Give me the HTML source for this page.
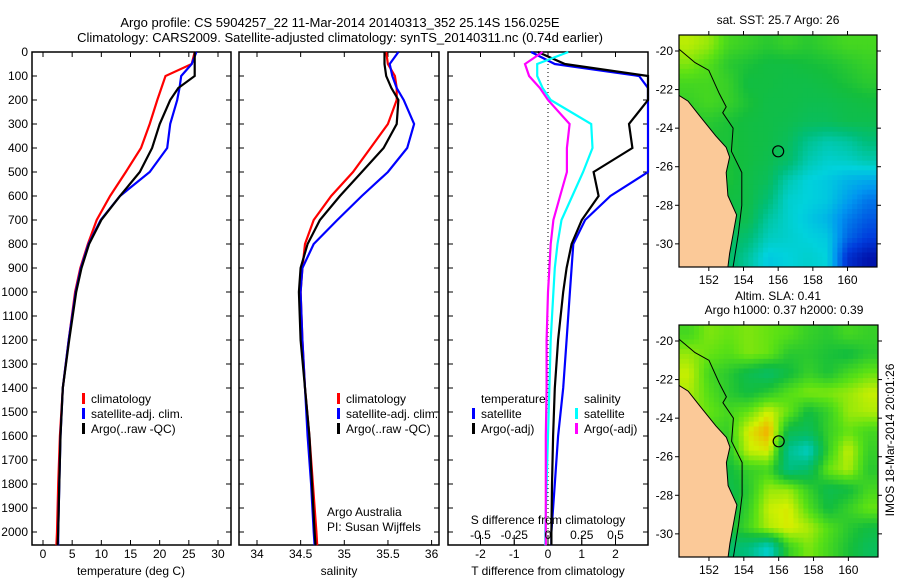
<!DOCTYPE html>
<html><head><meta charset="utf-8"><style>
html,body{margin:0;padding:0;background:#fff;}
svg{display:block;font-family:"Liberation Sans",sans-serif;}
text{font-size:12px;fill:#000;}
</style></head><body>
<svg id="c" width="900" height="580" viewBox="0 0 900 580">
<text x="340" y="27" text-anchor="middle" style="font-size:13px">Argo profile: CS 5904257_22 11-Mar-2014 20140313_352 25.14S 156.025E</text>
<text x="340" y="42" text-anchor="middle" style="font-size:13px">Climatology: CARS2009. Satellite-adjusted climatology: synTS_20140311.nc (0.74d earlier)</text>
<text transform="translate(894,440) rotate(-90)" text-anchor="middle">IMOS 18-Mar-2014 20:01:26</text>
</svg>
<script>
// ---------- data ----------
const depthTicks=[0,100,200,300,400,500,600,700,800,900,1000,1100,1200,1300,1400,1500,1600,1700,1800,1900,2000];
const tempTicks=[0,5,10,15,20,25,30];
const salTicks=[34,34.5,35,35.5,36];
const tdTicks=[-2,-1,0,1,2];
const sdTicks=[-0.5,-0.25,0,0.25,0.5];
const sdTickLabels=["-0.5","-0.25","0","0.25","0.5"];
const depths=[0,50,100,150,200,300,400,500,600,700,800,900,1000,1200,1400,1600,1800,2000,2055];
const tempClim=[26,25.5,21,20.3,19.6,18.3,16.8,14.2,11.5,9.2,7.7,6.4,5.5,4.4,3.4,2.9,2.6,2.4,2.3];
const tempSat=[26.3,25.5,23.7,23.4,23,21.8,21.3,18.3,13.2,9.9,7.8,6.5,5.6,4.4,3.4,3.0,2.8,2.6,2.6];
const tempArgo=[26,26,26,23.2,21.8,20,18.7,16.6,13.2,10,7.9,6.6,5.7,4.5,3.4,3.0,2.8,2.6,2.5];
const salClim=[35.48,35.5,35.58,35.6,35.6,35.5,35.3,35.1,34.85,34.65,34.55,34.52,34.5,34.52,34.55,34.6,34.64,34.68,34.69];
const salSat=[35.62,35.52,35.55,35.6,35.68,35.8,35.72,35.5,35.2,34.92,34.65,34.52,34.5,34.52,34.55,34.58,34.62,34.65,34.66];
const salArgo=[35.46,35.46,35.48,35.54,35.62,35.6,35.45,35.2,34.95,34.72,34.58,34.5,34.48,34.5,34.55,34.6,34.63,34.66,34.67];
const tdSat=[-0.5,0.2,2.7,3.3,3.4,3.4,3.4,3.0,1.85,1.1,0.75,0.7,0.65,0.55,0.45,0.3,0.2,0.1,0.1];
const tdArgo=[-0.3,0.5,3.4,3.4,3.2,2.4,2.5,1.35,1.5,1.0,0.7,0.55,0.45,0.3,0.2,0.15,0.12,0.1,0.1];
const sdSat=[0.15,-0.08,-0.08,-0.04,0.02,0.32,0.33,0.26,0.18,0.1,0.07,0.05,0.04,0.02,0.01,0,-0.01,-0.02,-0.02];
const sdArgo=[-0.04,-0.17,-0.14,-0.06,0,0.16,0.14,0.14,0.09,0.04,0.02,0.01,0,-0.01,-0.01,-0.016,-0.016,-0.016,-0.016];
const mapLonTicks=[152,154,156,158,160];
const sstLatTicks=[-20,-22,-24,-26,-28,-30];
const sstGrid=[
[.83,.80,.72,.70,.68,.70,.68,.70,.72,.72],
[.78,.74,.68,.66,.64,.64,.65,.66,.68,.70],
[.72,.72,.70,.64,.64,.63,.63,.64,.66,.68],
[.70,.72,.70,.66,.63,.63,.62,.62,.63,.64],
[.68,.68,.66,.64,.63,.62,.60,.60,.62,.62],
[.66,.66,.66,.64,.63,.60,.52,.48,.50,.55],
[.66,.66,.66,.64,.62,.58,.48,.44,.45,.48],
[.66,.66,.66,.63,.60,.48,.42,.40,.36,.34],
[.66,.66,.64,.63,.56,.44,.42,.40,.32,.25],
[.66,.66,.63,.62,.50,.44,.40,.36,.26,.20],
[.66,.66,.60,.56,.46,.44,.42,.40,.22,.15],
[.66,.66,.58,.50,.40,.42,.44,.42,.12,.05]];
const slaGrid=[
[.72,.78,.76,.78,.76,.74,.70,.68,.72,.70],
[.80,.76,.74,.78,.76,.68,.68,.66,.64,.68],
[.84,.72,.68,.62,.58,.64,.70,.66,.72,.76],
[.82,.74,.68,.64,.68,.74,.78,.78,.80,.84],
[.80,.76,.72,.76,.85,.76,.64,.70,.80,.82],
[.78,.72,.70,.86,.93,.62,.60,.70,.76,.72],
[.78,.70,.68,.84,.86,.52,.45,.70,.84,.70],
[.76,.68,.64,.70,.72,.54,.58,.76,.82,.68],
[.74,.68,.62,.68,.80,.80,.70,.62,.64,.72],
[.72,.66,.62,.70,.84,.86,.74,.64,.70,.76],
[.70,.64,.64,.72,.82,.86,.82,.74,.68,.64],
[.70,.64,.58,.54,.44,.70,.78,.72,.66,.60]];
const coastLon=[150.28,150.8,151.5,152.4,153.0,153.2,153.0,153.1,153.6,153.4,153.2,153.1];
const coastLat=[-22.3,-22.6,-23.4,-24.4,-25.0,-25.5,-26.3,-27.5,-28.5,-29.5,-30.5,-31.2];
const isoLon=[150.28,151.2,152.0,152.6,153.0,152.8,153.4,153.3,153.9,153.9,153.7,153.4];
const isoLat=[-19.9,-20.6,-21.0,-22.2,-22.9,-23.2,-24.0,-25.2,-26.3,-28.0,-29.5,-31.2];
const argoLon=156.0, argoLat=-25.2;

// ---------- helpers ----------
const NS="http://www.w3.org/2000/svg";
const svg=document.getElementById('c');
function mk(tag,attrs,parent){const e=document.createElementNS(NS,tag);for(const k in attrs)e.setAttribute(k,attrs[k]);(parent||svg).appendChild(e);return e;}
const Y0=52,Y1=532,YB=545;
const yD=d=>Y0+(d/2000)*(Y1-Y0);

function axesBox(x0,x1,name){
  const g=mk('g',{});
  
  
  mk('rect',{x:x0,y:Y0,width:x1-x0,height:YB-Y0,fill:'#fff',stroke:'#000','stroke-width':1.5},g);
  return g;
}
function yTicks(g,x0,x1,labels){
  depthTicks.forEach(d=>{
    const y=yD(d);
    mk('line',{x1:x0,y1:y,x2:x0+5,y2:y,stroke:'#000'},g);
    mk('line',{x1:x1,y1:y,x2:x1-5,y2:y,stroke:'#000'},g);
    if(labels){const t=mk('text',{x:x0-4,y:y+4,'text-anchor':'end'},g);t.textContent=d;
      
      }
  });
}
function xTicks(g,vals,fx,labels,ly){
  vals.forEach((v,i)=>{
    const x=fx(v);
    mk('line',{x1:x,y1:YB,x2:x,y2:YB-5,stroke:'#000'},g);
    mk('line',{x1:x,y1:Y0,x2:x,y2:Y0+5,stroke:'#000'},g);
    const t=mk('text',{x:x,y:ly,'text-anchor':'middle'},g);t.textContent=labels?labels[i]:v;
    
    
  });
}
function profile(g,vals,fx,color,name,x0,x1){
  let pts='';
  vals.forEach((v,i)=>{let x=Math.max(x0,Math.min(x1,fx(v)));pts+=x.toFixed(1)+','+yD(Math.min(depths[i],2055)).toFixed(1)+' ';});
  const p=mk('polyline',{points:pts,fill:'none',stroke:color,'stroke-width':2.2},g);
  
  
}
function legendEntry(g,x,y,color,label,name){
  const e=mk('g',{},g);
  
  
  if(color)mk('rect',{x:x,y:y-10,width:3,height:11,fill:color},e);
  const t=mk('text',{x:x+9,y:y},e);t.textContent=label;
}

// ---------- panel 1: temperature ----------
const fT=v=>43+v*5.833;
let g1=axesBox(32,231,'temperature-panel');
yTicks(g1,32,231,true);
xTicks(g1,tempTicks,fT,null,558);
profile(g1,tempClim,fT,'#f00','temp-climatology-line',32,231);
profile(g1,tempSat,fT,'#00f','temp-satellite-line',32,231);
profile(g1,tempArgo,fT,'#000','temp-argo-line',32,231);
legendEntry(g1,82,403,'#f00','climatology','legend-climatology');
legendEntry(g1,82,418,'#00f','satellite-adj. clim.','legend-satellite');
legendEntry(g1,82,433,'#000','Argo(..raw -QC)','legend-argo');
{const t=mk('text',{x:131,y:575,'text-anchor':'middle'},g1);t.textContent='temperature (deg C)';

}

// ---------- panel 2: salinity ----------
const fS=v=>257+(v-34)*87.3;
let g2=axesBox(239,439,'salinity-panel');
yTicks(g2,239,439,false);
xTicks(g2,salTicks,fS,null,558);
profile(g2,salClim,fS,'#f00','sal-climatology-line',239,439);
profile(g2,salSat,fS,'#00f','sal-satellite-line',239,439);
profile(g2,salArgo,fS,'#000','sal-argo-line',239,439);
legendEntry(g2,337,403,'#f00','climatology','legend-climatology');
legendEntry(g2,337,418,'#00f','satellite-adj. clim.','legend-satellite');
legendEntry(g2,337,433,'#000','Argo(..raw -QC)','legend-argo');
{const t=mk('text',{x:327,y:516},g2);t.textContent='Argo Australia';


const t2=mk('text',{x:327,y:531},g2);t2.textContent='PI: Susan Wijffels';


const t3=mk('text',{x:339,y:575,'text-anchor':'middle'},g2);t3.textContent='salinity';

}

// ---------- panel 3: differences ----------
const fTD=v=>548+v*33.75;
const fSD=v=>548+v*135;
let g3=axesBox(448,648,'difference-panel');
yTicks(g3,448,648,false);
xTicks(g3,tdTicks,fTD,null,558);
mk('line',{x1:548,y1:Y0,x2:548,y2:YB,stroke:'#000','stroke-dasharray':'1,3'},g3);
profile(g3,tdSat,fTD,'#00f','tdiff-satellite-line',448,648);
profile(g3,tdArgo,fTD,'#000','tdiff-argo-line',448,648);
profile(g3,sdSat,fSD,'#0ff','sdiff-satellite-line',448,648);
profile(g3,sdArgo,fSD,'#f0f','sdiff-argo-line',448,648);
sdTicks.forEach((v,i)=>{const x=fSD(v);
  mk('line',{x1:x,y1:YB,x2:x,y2:YB-10,stroke:'#000'},g3);
  const t=mk('text',{x:x,y:539,'text-anchor':'middle'},g3);t.textContent=sdTickLabels[i];
  
  });
{const t=mk('text',{x:548,y:524,'text-anchor':'middle'},g3);t.textContent='S difference from climatology';


const t2=mk('text',{x:548,y:575,'text-anchor':'middle'},g3);t2.textContent='T difference from climatology';

}
legendEntry(g3,472,403,null,'temperature','legend-temperature-header');
legendEntry(g3,472,418,'#00f','satellite','legend-t-satellite');
legendEntry(g3,472,433,'#000','Argo(-adj)','legend-t-argo');
legendEntry(g3,575,403,null,'salinity','legend-salinity-header');
legendEntry(g3,575,418,'#0ff','satellite','legend-s-satellite');
legendEntry(g3,575,433,'#f0f','Argo(-adj)','legend-s-argo');

// ---------- maps ----------
const cmapStops=[[0,[0,0,150]],[0.15,[0,60,220]],[0.3,[0,150,240]],[0.42,[0,210,220]],[0.55,[0,190,120]],[0.65,[20,190,60]],[0.75,[90,225,20]],[0.85,[210,240,0]],[0.93,[245,170,0]],[1,[230,100,0]]];
function cmap(v){for(let i=1;i<cmapStops.length;i++){if(v<=cmapStops[i][0]){const a=cmapStops[i-1],b=cmapStops[i],t=(v-a[0])/(b[0]-a[0]);return 'rgb('+a[1].map((c,k)=>Math.round(c+(b[1][k]-c)*t)).join(',')+')';}}return 'rgb(230,100,0)';}
function sample(grid,fr,fc){
  const R=grid.length,C=grid[0].length;
  fr=Math.max(0,Math.min(R-1,fr));fc=Math.max(0,Math.min(C-1,fc));
  const r0=Math.floor(fr),c0=Math.floor(fc),r1=Math.min(R-1,r0+1),c1=Math.min(C-1,c0+1);
  const tr=fr-r0,tc=fc-c0;
  return (grid[r0][c0]*(1-tc)+grid[r0][c1]*tc)*(1-tr)+(grid[r1][c0]*(1-tc)+grid[r1][c1]*tc)*tr;
}
const LON0=150.28,LON1=161.7,LAT0=-19.17,LAT1=-31.2;
function drawMap(mx0,my0,mx1,my1,grid,name){
  const g=mk('g',{});
  
  
  const fx=lon=>mx0+(lon-LON0)/(LON1-LON0)*(mx1-mx0);
  const fy=lat=>my0+(lat-LAT0)/(LAT1-LAT0)*(my1-my0);
  const rows=grid.length,cols=grid[0].length,SUB=4;
  const cw=(mx1-mx0)/(cols*SUB),ch=(my1-my0)/(rows*SUB);
  const clipId=name+'-clip';
  const cp=mk('clipPath',{id:clipId},g);mk('rect',{x:mx0,y:my0,width:mx1-mx0,height:my1-my0},cp);
  const cg=mk('g',{'clip-path':'url(#'+clipId+')'},g);
  for(let r=0;r<rows*SUB;r++)for(let c=0;c<cols*SUB;c++){
    const v=sample(grid,(r+0.5)/SUB-0.5,(c+0.5)/SUB-0.5);
    const cell=mk('rect',{x:(mx0+c*cw).toFixed(2),y:(my0+r*ch).toFixed(2),width:(cw+0.6).toFixed(2),height:(ch+0.6).toFixed(2),fill:cmap(v)},cg);
    
    
  }
  let land='';coastLon.forEach((lo,i)=>{land+=fx(lo).toFixed(1)+','+fy(coastLat[i]).toFixed(1)+' ';});
  land+=mx0+','+my1+' '+mx0+','+fy(coastLat[0]);
  const lp=mk('polygon',{points:land,fill:'#fbc998',stroke:'#000','stroke-width':1},cg);
  
  
  let iso='';isoLon.forEach((lo,i)=>{iso+=fx(lo).toFixed(1)+','+fy(isoLat[i]).toFixed(1)+' ';});
  mk('polyline',{points:iso,fill:'none',stroke:'#000','stroke-width':1},cg);
  const ac=mk('circle',{cx:fx(argoLon),cy:fy(argoLat),r:5.5,fill:'none',stroke:'#000','stroke-width':1.2},cg);
  
  
  mk('rect',{x:mx0,y:my0,width:mx1-mx0,height:my1-my0,fill:'none',stroke:'#000','stroke-width':1.2},g);
  mapLonTicks.forEach(lo=>{const x=fx(lo);
    mk('line',{x1:x,y1:my1,x2:x,y2:my1+4,stroke:'#000'},g);
    mk('line',{x1:x,y1:my0,x2:x,y2:my0-4,stroke:'#000'},g);
    const t=mk('text',{x:x,y:my1+17,'text-anchor':'middle'},g);t.textContent=lo;
    
    });
  sstLatTicks.forEach(la=>{const y=fy(la);
    mk('line',{x1:mx0,y1:y,x2:mx0-4,y2:y,stroke:'#000'},g);
    mk('line',{x1:mx1,y1:y,x2:mx1+4,y2:y,stroke:'#000'},g);
    const t=mk('text',{x:mx0-6,y:y+4,'text-anchor':'end'},g);t.textContent=la;
    
    });
  return g;
}
drawMap(679,35,877,267,sstGrid,'sst-map');
{const t=mk('text',{x:778,y:24,'text-anchor':'middle'});t.textContent='sat. SST: 25.7 Argo: 26';

}
drawMap(679,325,878,557,slaGrid,'sla-map');
{const t=mk('text',{x:778,y:300,'text-anchor':'middle'});t.textContent='Altim. SLA: 0.41';


const t2=mk('text',{x:784,y:314,'text-anchor':'middle'});t2.textContent='Argo h1000: 0.37 h2000: 0.39';

}
</script>
</body></html>
